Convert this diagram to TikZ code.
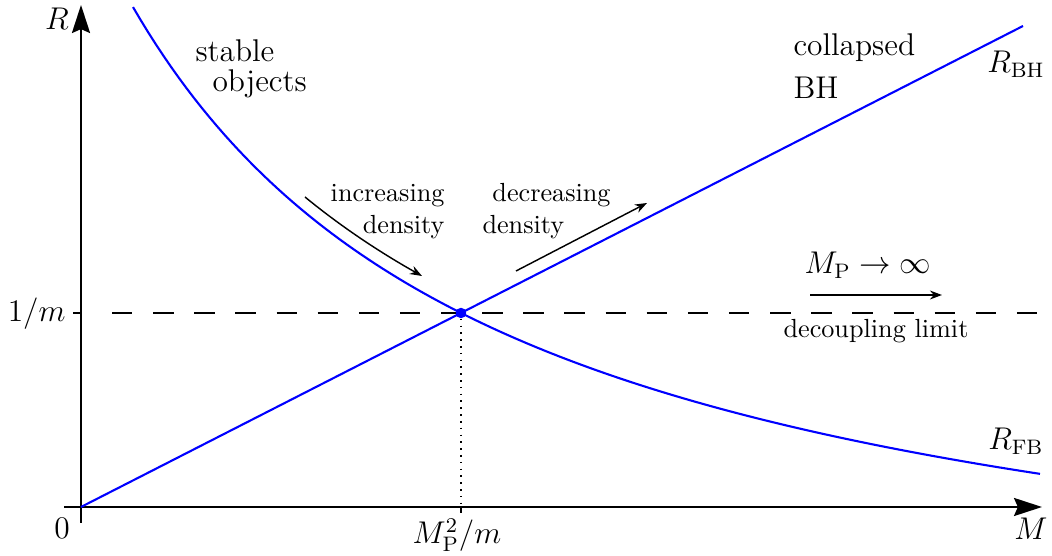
\documentclass[tikz,border=0pt]{standalone}
\usetikzlibrary{arrows.meta}
\begin{document}
\begin{tikzpicture}[x=0.3817pt,y=-0.3817pt,
  axis/.style={line width=0.8pt,-{Stealth[length=10.7pt,width=6.9pt,inset=1.5pt]}},
  curve/.style={blue,line width=0.8pt},
  hint/.style={line width=0.55pt,-{Stealth[length=4.6pt,width=3.4pt]}},
  tick/.style={line width=0.8pt},
  lbl/.style={inner sep=0pt,font=\large},
  txt/.style={inner sep=0pt}]
\useasboundingbox (0,0) rectangle (1052,556);
% key points
\coordinate (O) at (81,507);
\coordinate (xs) at (64,507);
\coordinate (xe) at (1042,507);
\coordinate (ys) at (81,523);
\coordinate (ye) at (81,5);
\coordinate (foot) at (461,507);
\coordinate (footb) at (461,513);
\coordinate (tl) at (73,313);
\coordinate (tr) at (81,313);
\coordinate (ds) at (112,313);
\coordinate (de) at (1040,313);
\coordinate (bhend) at (1023,26);
% dashed level 1/m
\draw[tick] (tl) -- (tr);
\draw[line width=0.75pt,dash pattern=on 7.8pt off 7.9pt] (ds) -- (de);
% axes
\draw[axis] (xs) -- (xe);
\draw[axis] (ys) -- (ye);
% curves
\draw[curve] (O) -- (bhend);
\draw[curve] plot[domain=0.52:9.59,samples=120,variable=\t] ({81+100*\t},{672-100*25.6/(\t+3.33)});
% intersection
\node[circle,fill=blue,inner sep=0pt,minimum size=4pt] (dot) at (461,313) {};
\draw[dotted,line width=0.6pt] (dot) -- (foot);
\draw[tick] (foot) -- (footb);
% hint arrows
\coordinate (ia) at (305,197);
\coordinate (ib) at (422,276);
\draw[hint] (ia) .. controls (344,229) and (383,254) .. (ib);
\coordinate (da) at (516,271);
\coordinate (db) at (647,203);
\draw[hint] (da) -- (db);
\coordinate (ma) at (810,295);
\coordinate (mb) at (942,295);
\draw[hint] (ma) -- (mb);
% labels
\node[lbl] (Rlab) at (57,19) {$R$};
\node[lbl] (Mlab) at (1031,529) {$M$};
\node[lbl] (zero) at (62,528) {$0$};
\node[lbl,anchor=east] (onem) at (66,314) {$1/m$};
\node[lbl] (mp2) at (457,535) {$M_{\mathrm{P}}^2/m$};
\node[lbl] (rbh) at (1016,64) {$R_{\mathrm{BH}}$};
\node[lbl] (rfb) at (1016,441) {$R_{\mathrm{FB}}$};
\node[lbl,anchor=base west] (stable) at (195,62) {\begin{tabular}[t]{@{}l@{}}stable\\[-2.9pt]\hspace{6.5pt}objects\end{tabular}};
\node[lbl,anchor=base west] (coll) at (793,56) {\begin{tabular}[t]{@{}l@{}}collapsed\\[2.4pt]BH\end{tabular}};
\node[txt,anchor=base east] (inc) at (445,202) {\begin{tabular}[t]{@{}r@{}}increasing\\density\end{tabular}};
\node[txt,anchor=base west] (dec) at (482,202) {\begin{tabular}[t]{@{}l@{}}\hspace{3.8pt}decreasing\\density\end{tabular}};
\node[lbl,anchor=base] (mpinf) at (868,274) {$M_{\mathrm{P}}\to\infty$};
\node[txt,anchor=base] (dec2) at (876,338) {decoupling limit};
\end{tikzpicture}
\end{document}
